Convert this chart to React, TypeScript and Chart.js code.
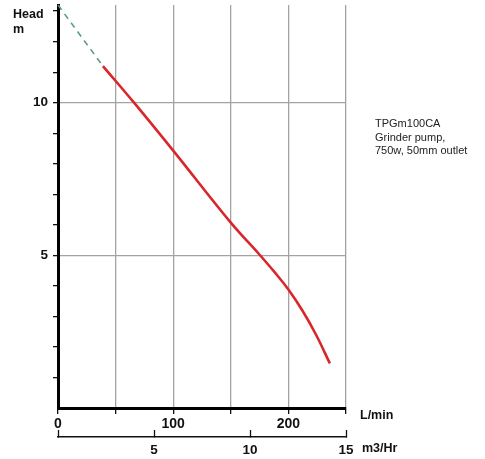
import React, { useEffect, useRef } from "react";
import { Chart, registerables } from "chart.js";

Chart.register(...registerables);

// ---- data ----
const flowLmin = [39, 66, 100, 150, 175, 188, 200, 212, 224, 236];
const headM = [11.2, 10.0, 8.43, 6.07, 5.02, 4.45, 3.88, 3.2, 2.4, 1.46];
const extrapFlow = [0, 39];
const extrapHead = [13.2, 11.2];

const lminTicks = [0, 50, 100, 150, 200, 250];
const lminLabels = [0, 100, 200];
const m3hTicks = [0, 5, 10, 15];
const m3hLabels = [5, 10, 15];
const headTicks = [1, 2, 3, 4, 5, 6, 7, 8, 9, 10, 11, 12, 13];
const headLabels = [5, 10];
const headGrid = [5, 10];

const yTitle = ["Head", "m"];
const xTitle = "L/min";
const x2Title = "m3/Hr";
const noteLines = ["TPGm100CA", "Grinder pump,", "750w, 50mm outlet"];

const FONT = '"Liberation Sans", Arial, Helvetica, sans-serif';
const GRID = "#a3a3a3";
const CLEAR = "rgba(0,0,0,0)";

const textPlugin = {
  id: "pumpText",
  afterDraw(chart: any) {
    const { ctx, scales } = chart;
    const x = scales.x;
    const x2 = scales.x2;
    ctx.save();
    ctx.fillStyle = "#111";
    ctx.textBaseline = "middle";
    ctx.textAlign = "left";
    ctx.font = `bold 12.5px ${FONT}`;
    ctx.fillText(yTitle[0], 13, 15);
    ctx.fillText(yTitle[1], 13, 30);
    ctx.fillText(xTitle, x.right + 14, x.top + 8);
    ctx.fillText(x2Title, x2.right + 16, x2.top + 12);
    ctx.font = `11px ${FONT}`;
    ctx.fillStyle = "#222";
    noteLines.forEach((l, i) => ctx.fillText(l, 375, 124 + i * 13.5));
    ctx.restore();
  },
};

export default function App() {
  const ref = useRef<HTMLCanvasElement | null>(null);

  useEffect(() => {
    if (!ref.current) return;
    const chart = new Chart(ref.current, {
      type: "line",
      data: {
        datasets: [
          {
            data: extrapFlow.map((f, i) => ({ x: f, y: extrapHead[i] })),
            borderColor: "#5b9e84",
            borderWidth: 1.6,
            borderDash: [6, 5],
            pointRadius: 0,
            fill: false,
            clip: false as any,
          },
          {
            data: flowLmin.map((f, i) => ({ x: f, y: headM[i] })),
            borderColor: "#d9262b",
            borderWidth: 2.6,
            tension: 0.4,
            pointRadius: 0,
            fill: false,
          },
        ],
      },
      options: {
        responsive: false,
        animation: false,
        parsing: false as any,
        layout: { padding: { left: 0, right: 139, top: 5, bottom: 0 } },
        plugins: {
          legend: { display: false },
          tooltip: { enabled: false },
        },
        scales: {
          x: {
            type: "linear",
            position: "bottom",
            weight: 0,
            min: 0,
            max: 250,
            afterBuildTicks: (axis: any) => {
              axis.ticks = lminTicks.map((v) => ({ value: v }));
            },
            afterFit: (s: any) => {
              s.height = 29;
              s.paddingLeft = 0;
              s.paddingRight = 0;
            },
            ticks: {
              autoSkip: false,
              maxRotation: 0,
              padding: 2,
              color: "#111",
              font: { family: FONT, size: 14, weight: "bold" },
              callback: (v: any) => (lminLabels.includes(Number(v)) ? String(v) : ""),
            },
            grid: {
              color: (c: any) => (c.tick && c.tick.value === 0 ? CLEAR : GRID),
              lineWidth: 1.3,
              tickColor: "#111",
              tickLength: 6,
              tickWidth: 1.3,
            },
            border: { color: "#000", width: 3 },
          },
          x2: {
            type: "linear",
            position: "bottom",
            weight: 1,
            min: 0,
            max: 15,
            afterBuildTicks: (axis: any) => {
              axis.ticks = m3hTicks.map((v) => ({ value: v }));
            },
            afterFit: (s: any) => {
              s.height = 22;
              s.paddingLeft = 0;
              s.paddingRight = 0;
            },
            ticks: {
              autoSkip: false,
              maxRotation: 0,
              padding: 12,
              color: "#111",
              font: { family: FONT, size: 13.5, weight: "bold" },
              callback: (v: any) => (m3hLabels.includes(Number(v)) ? String(v) : ""),
            },
            grid: {
              drawOnChartArea: false,
              tickColor: "#111",
              tickLength: -7,
              tickWidth: 1.3,
            },
            border: { color: "#111", width: 1.5 },
          },
          y: {
            type: "linear",
            position: "left",
            min: 0,
            max: 13.2,
            afterBuildTicks: (axis: any) => {
              axis.ticks = headTicks.map((v) => ({ value: v }));
            },
            afterFit: (s: any) => {
              s.width = 58;
              s.paddingTop = 0;
              s.paddingBottom = 0;
            },
            ticks: {
              autoSkip: false,
              padding: 5,
              color: "#111",
              font: { family: FONT, size: 13.5, weight: "bold" },
              callback: (v: any) => (headLabels.includes(Number(v)) ? String(v) : ""),
            },
            grid: {
              color: (c: any) => (c.tick && headGrid.includes(c.tick.value) ? GRID : CLEAR),
              lineWidth: 1.3,
              tickColor: "#111",
              tickLength: 5,
              tickWidth: 1.3,
            },
            border: { color: "#000", width: 3 },
          },
        },
      },
      plugins: [textPlugin],
    } as any);
    return () => chart.destroy();
  }, []);

  return (
    <div style={{ position: "absolute", left: 0, top: 0, width: 485, height: 459, background: "#fff" }}>
      <canvas ref={ref} width={485} height={459} />
    </div>
  );
}
